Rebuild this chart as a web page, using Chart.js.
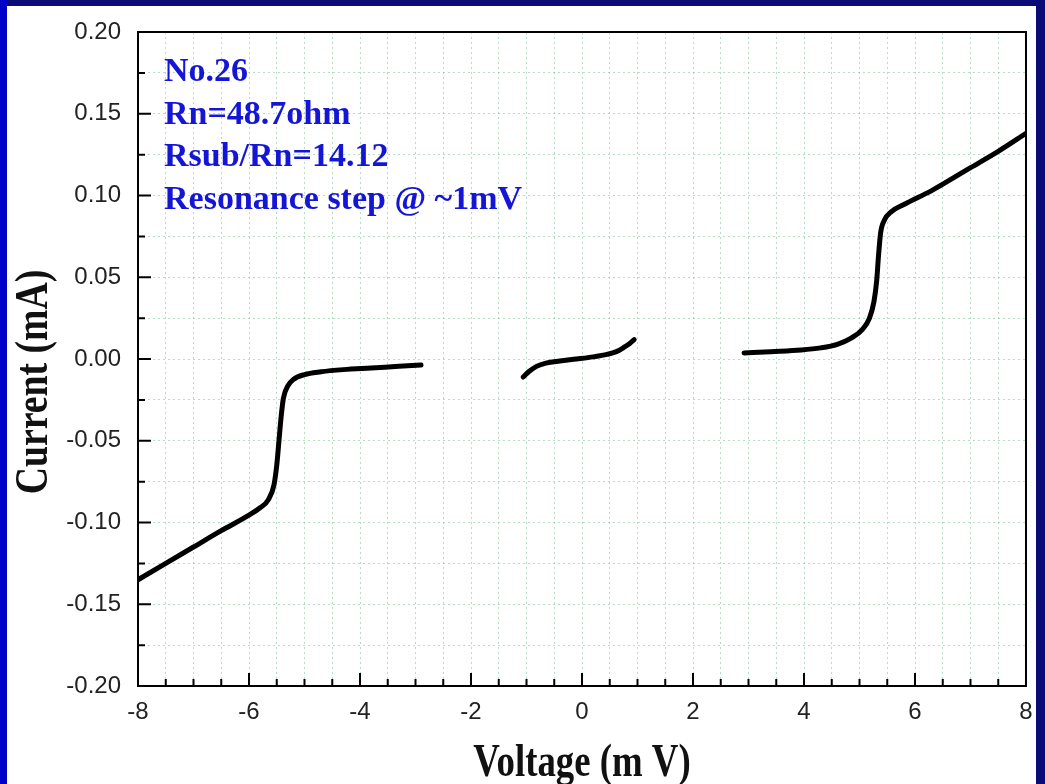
<!DOCTYPE html>
<html lang="en">
<head>
<meta charset="UTF-8">
<title>I-V curve No.26</title>
<style>
  body { margin: 0; background: #0b0b78; width: 1045px; height: 784px; overflow: hidden; position: relative; }
  .edge { position: absolute; left: 0; top: 0; width: 7px; height: 784px; background: #0000c8; }
  .panel { position: absolute; left: 7px; top: 6px; width: 1029px; height: 778px; background: #fff; }
  #wrap { position: absolute; left: 0; top: 0; width: 1045px; height: 784px; }
</style>
</head>
<body>
<div class="edge"></div>
<div class="panel"></div>
<div id="wrap"><canvas id="iv"></canvas></div>
<script src="https://cdn.jsdelivr.net/npm/chart.js"></script>
<script>
// negative-bias branch (mV, mA)
const vLow = [-8.0, -7.5, -7.0, -6.5, -6.0, -5.8, -5.65, -5.55, -5.5, -5.46, -5.42, -5.38, -5.3, -5.2, -5.0, -4.7, -4.3, -3.8, -3.3, -2.9];
const iLow = [-0.135, -0.125, -0.115, -0.105, -0.0955, -0.091, -0.086, -0.077, -0.065, -0.050, -0.035, -0.024, -0.0165, -0.0125, -0.0095, -0.0078, -0.0065, -0.0055, -0.0045, -0.0037];
// small branch around zero bias
const vMid = [-1.06, -0.95, -0.82, -0.65, -0.4, -0.1, 0.2, 0.45, 0.62, 0.76, 0.86, 0.94];
const iMid = [-0.011, -0.0075, -0.0045, -0.0025, -0.0012, 0.0, 0.0013, 0.0028, 0.0045, 0.0072, 0.0095, 0.0118];
// positive-bias branch
const vHigh = [2.92, 3.4, 3.95, 4.3, 4.6, 4.85, 5.05, 5.18, 5.26, 5.31, 5.34, 5.38, 5.45, 5.57, 5.8, 6.3, 7.0, 7.5, 8.0];
const iHigh = [0.0037, 0.0045, 0.0055, 0.0068, 0.009, 0.0128, 0.018, 0.025, 0.035, 0.048, 0.062, 0.077, 0.085, 0.090, 0.0945, 0.103, 0.117, 0.127, 0.138];

const notes = ['No.26', 'Rn=48.7ohm', 'Rsub/Rn=14.12', 'Resonance step @ ~1mV'];
const xTitle = 'Voltage (m V)';
const yTitle = 'Current (mA)';

const pts = (xs, ys) => xs.map((x, i) => ({ x: x, y: ys[i] }));
const isMult = (v, step) => Math.abs(v / step - Math.round(v / step)) < 1e-6;

const branch = (xs, ys) => ({
  data: pts(xs, ys),
  showLine: true,
  borderColor: '#000',
  borderWidth: 5,
  pointRadius: 0,
  cubicInterpolationMode: 'monotone',
  borderCapStyle: 'round',
  borderJoinStyle: 'round'
});

const gridCol = 'rgba(110,190,140,0.5)';
const tickFont = { family: 'Liberation Sans', size: 24 };

// frame, inward tick marks, notes and rotated/condensed axis titles
const decor = {
  id: 'decor',
  afterDraw(chart) {
    const { ctx, chartArea: a, scales: { x, y } } = chart;
    ctx.save();
    ctx.strokeStyle = '#000';
    ctx.lineWidth = 2;
    ctx.strokeRect(a.left, a.top, a.right - a.left, a.bottom - a.top);

    ctx.beginPath();
    x.ticks.forEach(t => {
      const px = x.getPixelForValue(t.value);
      const len = isMult(t.value, 2) ? 13 : 7;
      ctx.moveTo(px, a.bottom);
      ctx.lineTo(px, a.bottom - len);
    });
    y.ticks.forEach(t => {
      const py = y.getPixelForValue(t.value);
      const len = isMult(t.value, 0.05) ? 13 : 7;
      ctx.moveTo(a.left, py);
      ctx.lineTo(a.left + len, py);
    });
    ctx.stroke();

    ctx.fillStyle = '#1515d6';
    ctx.font = 'bold 34px "Liberation Serif"';
    ctx.textBaseline = 'alphabetic';
    notes.forEach((s, i) => ctx.fillText(s, a.left + 26, a.top + 49 + i * 42.5));

    ctx.fillStyle = '#111';
    ctx.font = 'bold 46px "Liberation Serif"';
    ctx.textAlign = 'center';
    ctx.save();
    ctx.translate((a.left + a.right) / 2, 776);
    ctx.scale(0.8, 1);
    ctx.fillText(xTitle, 0, 0);
    ctx.restore();

    ctx.save();
    ctx.translate(47, 382);
    ctx.rotate(-Math.PI / 2);
    ctx.scale(0.82, 1);
    ctx.fillText(yTitle, 0, 0);
    ctx.restore();
    ctx.restore();
  }
};

new Chart(document.getElementById('iv'), {
  type: 'scatter',
  data: { datasets: [branch(vLow, iLow), branch(vMid, iMid), branch(vHigh, iHigh)] },
  options: {
    responsive: true,
    maintainAspectRatio: false,
    animation: false,
    layout: { padding: { left: 0, top: 32, right: 19, bottom: 0 } },
    plugins: { legend: { display: false }, tooltip: { enabled: false } },
    scales: {
      x: {
        type: 'linear', min: -8, max: 8,
        afterFit: s => { s.height = 98; },
        ticks: {
          stepSize: 0.5, autoSkip: false, maxRotation: 0, padding: 12,
          color: '#222', font: tickFont,
          callback: v => isMult(v, 2) ? String(Math.round(v)) : ''
        },
        grid: { color: gridCol, lineWidth: 1, drawTicks: false, tickLength: 0 },
        border: { display: false, dash: [2, 3] }
      },
      y: {
        type: 'linear', min: -0.2, max: 0.2,
        afterFit: s => { s.width = 138; },
        ticks: {
          stepSize: 0.025, autoSkip: false, padding: 17,
          color: '#222', font: tickFont,
          callback: v => isMult(v, 0.05) ? (Math.abs(v) < 1e-9 ? '0.00' : v.toFixed(2)) : ''
        },
        grid: { color: gridCol, lineWidth: 1, drawTicks: false, tickLength: 0 },
        border: { display: false, dash: [2, 3] }
      }
    }
  },
  plugins: [decor]
});
</script>
</body>
</html>
